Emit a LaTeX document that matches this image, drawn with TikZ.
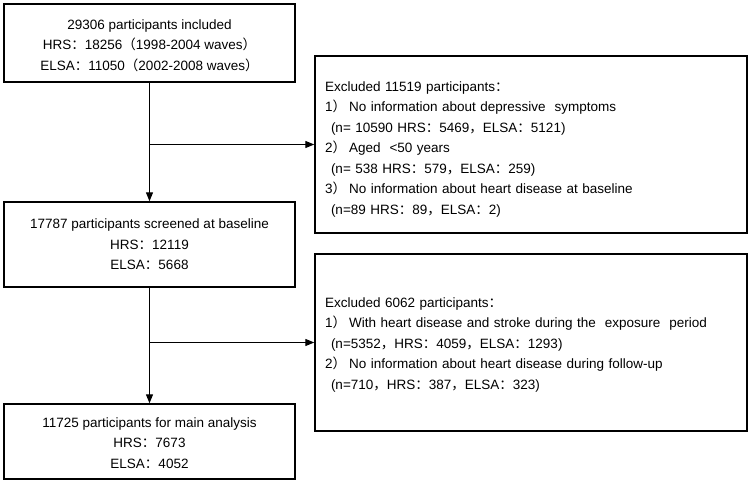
\documentclass[tikz,border=0pt]{standalone}
\usepackage{fontspec}
\setmainfont{Liberation Sans}
\newfontfamily\cjk{Noto Sans CJK SC}
\usetikzlibrary{arrows.meta}
\newcommand\fcol{{\cjk ：}}
\newcommand\fcom{{\cjk ，}}
\newcommand\flp{{\cjk （}}
\newcommand\frp{{\cjk ）}}
\newcommand\itm[1]{#1\frp\hspace{3pt}}
\begin{document}
\begin{tikzpicture}[x=1pt,y=-1pt,
  txt/.style={font=\fontsize{13.5}{20.5}\selectfont},
  lbox/.style={txt,draw,line width=1.4pt,inner sep=0pt,minimum width=291pt,align=center},
  rbox/.style={txt,draw,line width=1.4pt,inner xsep=10pt,inner ysep=0pt,text width=412pt,minimum height=177pt,align=left},
  arr/.style={line width=1.2pt,-{Triangle[length=9pt,width=7pt]}}]
\useasboundingbox (0,0) rectangle (750,486);
\node[lbox,minimum height=78pt] (b1) at (149.5,43)
  {\rule{0pt}{15pt}29306 participants included\\HRS\fcol18256\flp1998-2004 waves\frp\\ELSA\fcol11050\flp2002-2008 waves\frp};
\node[lbox,minimum height=85pt] (b2) at (149.5,244.5)
  {17787 participants screened at baseline\\HRS\fcol12119\\ELSA\fcol5668};
\node[lbox,minimum height=75pt] (b3) at (149.5,441.5)
  {\rule{0pt}{13pt}11725 participants for main analysis\\HRS\fcol7673\\ELSA\fcol4052};
\node[rbox] (r1) at (531,144.5)
  {\rule{0pt}{19pt}Excluded 11519 participants\fcol\\
   \itm{1}No information about depressive\ \ symptoms\\
   \hspace*{6pt}(n= 10590 HRS\fcol5469\fcom ELSA\fcol5121)\\
   \itm{2}Aged\ \ <50 years\\
   \hspace*{6pt}(n= 538 HRS\fcol579\fcom ELSA\fcol259)\\
   \itm{3}No information about heart disease at baseline\\
   \hspace*{6pt}(n=89 HRS\fcol89\fcom ELSA\fcol2)};
\node[rbox] (r2) at (531,342.5)
  {\rule{0pt}{14pt}Excluded 6062 participants\fcol\\
   \itm{1}With heart disease and stroke during the\ \ exposure\ \ period\\
   \hspace*{6pt}(n=5352\fcom HRS\fcol4059\fcom ELSA\fcol1293)\\
   \itm{2}No information about heart disease during follow-up\\
   \hspace*{6pt}(n=710\fcom HRS\fcol387\fcom ELSA\fcol323)};
\draw[arr] (b1.south) -- (b2.north);
\draw[arr] (b2.south) -- (b3.north);
\coordinate (j1) at (b1.south |- r1.west);
\coordinate (j2) at (b2.south |- r2.west);
\draw[arr] (j1) -- (r1.west);
\draw[arr] (j2) -- (r2.west);
\end{tikzpicture}
\end{document}
